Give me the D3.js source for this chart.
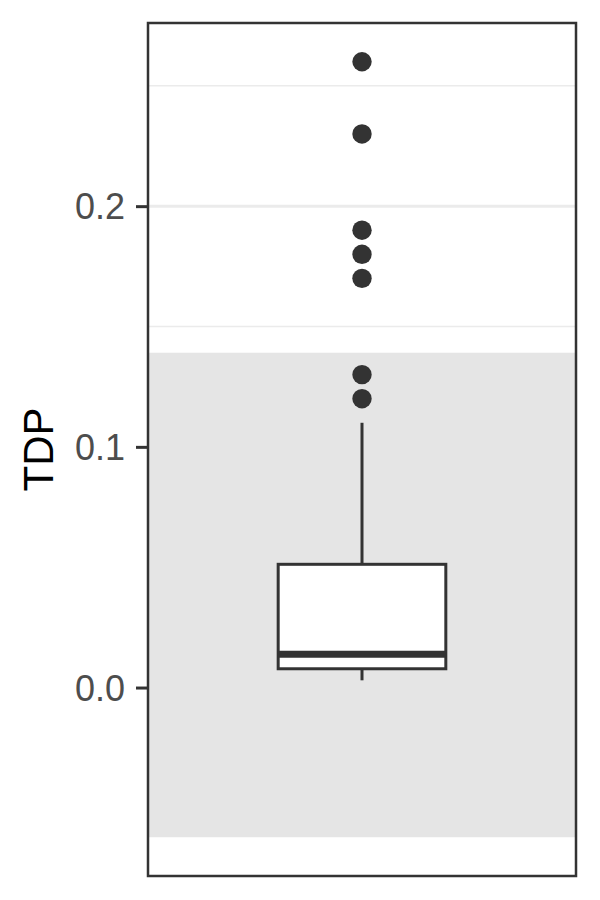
<!DOCTYPE html>
<html><head><meta charset="utf-8">
<script src="https://cdn.jsdelivr.net/npm/d3@7"></script>
<style>body{margin:0;background:#fff}svg{display:block}</style>
</head><body>
<svg id="c" width="600" height="900"></svg>
<script>
const categories = ["TDP"];
const boxStats = [{ymin: 0.003, q1: 0.0078, median: 0.0138, q3: 0.0512, ymax: 0.110}];
const outliers = [0.26, 0.23, 0.19, 0.18, 0.17, 0.13, 0.12];
const bandRange = [-0.0622, 0.1391];
const yTicks = [0.0, 0.1, 0.2];
const yMinor = [-0.05, 0.05, 0.15, 0.25];
const yTickLabels = ["0.0", "0.1", "0.2"];

const svg = d3.select("#c");
const P = {l: 148, r: 576, t: 23, b: 876};
const y = d3.scaleLinear().domain([-0.0783, 0.2761]).range([P.b, P.t]);
const x = d3.scaleLinear().domain([0.4, 1.6]).range([P.l, P.r]);

svg.append("rect").attr("x", P.l).attr("y", P.t).attr("width", P.r - P.l).attr("height", P.b - P.t).attr("fill", "#fff");
svg.selectAll(".gmin").data(yMinor.filter(v => y(v) > P.t && y(v) < P.b)).enter().append("line")
  .attr("x1", P.l).attr("x2", P.r).attr("y1", d => y(d)).attr("y2", d => y(d))
  .attr("stroke", "#EBEBEB").attr("stroke-width", 1.5);
svg.selectAll(".gmaj").data(yTicks).enter().append("line")
  .attr("x1", P.l).attr("x2", P.r).attr("y1", d => y(d)).attr("y2", d => y(d))
  .attr("stroke", "#EBEBEB").attr("stroke-width", 3);
svg.append("rect").attr("x", P.l).attr("width", P.r - P.l)
  .attr("y", y(bandRange[1])).attr("height", y(bandRange[0]) - y(bandRange[1]))
  .attr("fill", "#E5E5E5");

const hw = 0.235;
boxStats.forEach((s, i) => {
  const cx = x(i + 1);
  const g = svg.append("g");
  g.append("line").attr("x1", cx).attr("x2", cx).attr("y1", y(s.q3)).attr("y2", y(s.ymax))
    .attr("stroke", "#333333").attr("stroke-width", 3);
  g.append("line").attr("x1", cx).attr("x2", cx).attr("y1", y(s.q1)).attr("y2", y(s.ymin))
    .attr("stroke", "#333333").attr("stroke-width", 3);
  g.append("rect").attr("x", x(i + 1 - hw)).attr("width", x(i + 1 + hw) - x(i + 1 - hw))
    .attr("y", y(s.q3)).attr("height", y(s.q1) - y(s.q3))
    .attr("fill", "#fff").attr("stroke", "#333333").attr("stroke-width", 3);
  g.append("line").attr("x1", x(i + 1 - hw)).attr("x2", x(i + 1 + hw)).attr("y1", y(s.median)).attr("y2", y(s.median))
    .attr("stroke", "#333333").attr("stroke-width", 7);
  g.selectAll("circle").data(outliers).enter().append("circle")
    .attr("cx", cx).attr("cy", d => y(d)).attr("r", 9.7).attr("fill", "#333333");
});

svg.append("rect").attr("x", P.l).attr("y", P.t).attr("width", P.r - P.l).attr("height", P.b - P.t)
  .attr("fill", "none").attr("stroke", "#333333").attr("stroke-width", 2.5);

const ax = d3.axisLeft(y).tickValues(yTicks).tickSize(12).tickPadding(11)
  .tickFormat((d, i) => yTickLabels[i]);
const ag = svg.append("g").attr("transform", `translate(${P.l},0)`).call(ax);
ag.select(".domain").remove();
ag.selectAll(".tick line").attr("stroke", "#333333").attr("stroke-width", 3);
ag.selectAll(".tick text").attr("fill", "#4D4D4D").attr("font-family", "Liberation Sans, Arial, sans-serif")
  .attr("font-size", 36).attr("dy", "0.35em");

svg.append("text").attr("transform", `translate(53,${(P.t + P.b) / 2}) rotate(-90)`)
  .attr("text-anchor", "middle").attr("font-family", "Liberation Sans, Arial, sans-serif")
  .attr("font-size", 42).attr("fill", "#000").text(categories[0]);
</script>
</body></html>
